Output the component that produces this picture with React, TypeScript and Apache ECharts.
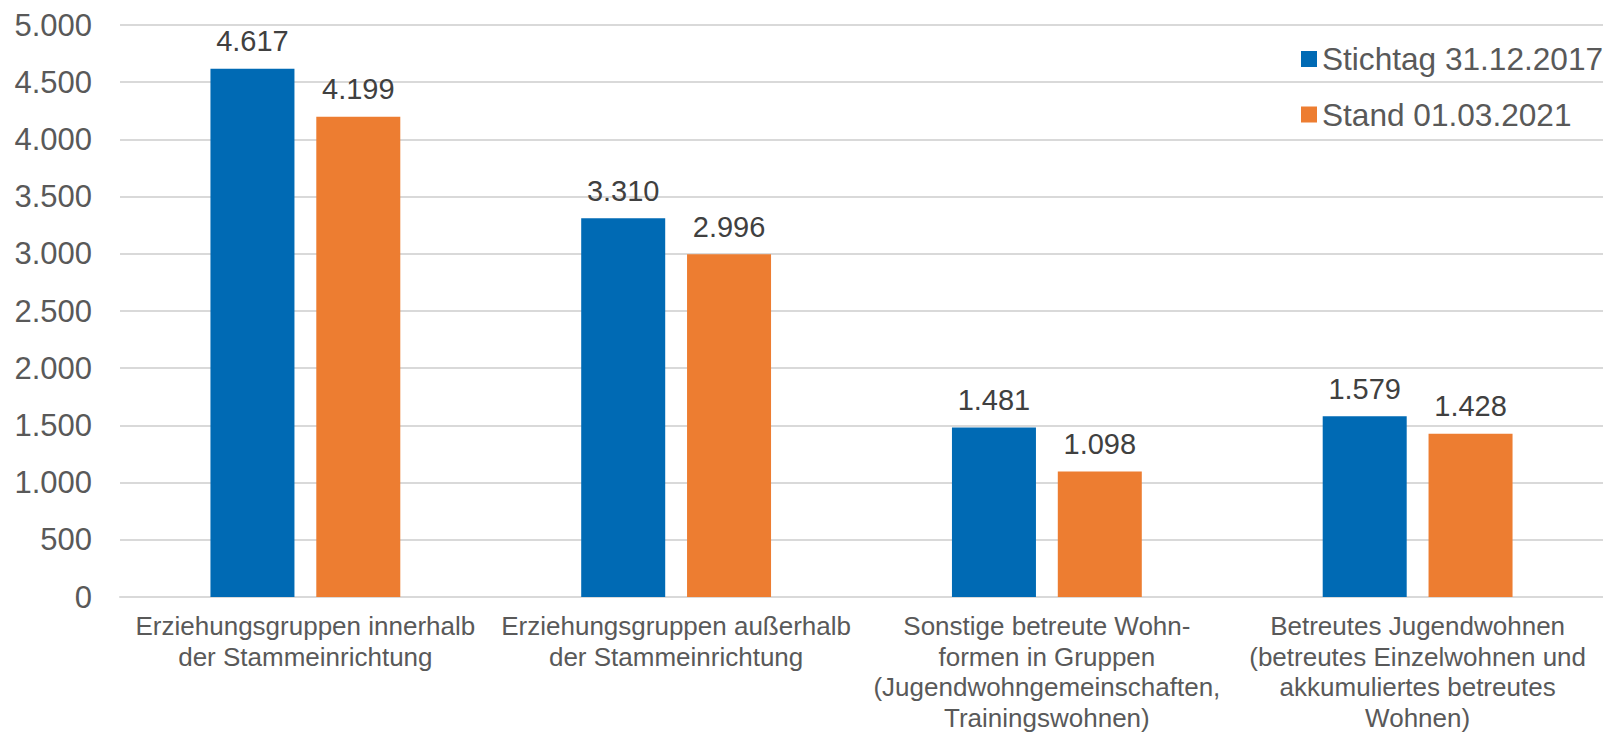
import React, { useEffect, useRef } from "react";
import * as echarts from "echarts";

const categories = [
  "Erziehungsgruppen innerhalb\nder Stammeinrichtung",
  "Erziehungsgruppen außerhalb\nder Stammeinrichtung",
  "Sonstige betreute Wohn-\nformen in Gruppen\n(Jugendwohngemeinschaften,\nTrainingswohnen)",
  "Betreutes Jugendwohnen\n(betreutes Einzelwohnen und\nakkumuliertes betreutes\nWohnen)",
];
const seriesNames = ["Stichtag 31.12.2017", "Stand 01.03.2021"];
const values2017 = [4617, 3310, 1481, 1579];
const values2021 = [4199, 2996, 1098, 1428];
const yMin = 0;
const yMax = 5000;
const yInterval = 500;

const fmt = (v: number) =>
  String(Math.round(v)).replace(/\B(?=(\d{3})+(?!\d))/g, ".");

const FONT = "Liberation Sans, Arial, sans-serif";

export default function App() {
  const ref = useRef<HTMLDivElement>(null);
  useEffect(() => {
    if (!ref.current) return;
    const chart = echarts.init(ref.current, null, { renderer: "svg" });
    const label = {
      show: true,
      position: "top",
      distance: 13,
      fontSize: 29,
      fontFamily: FONT,
      color: "#404040",
      formatter: (p: any) => fmt(p.value),
    };
    chart.setOption({
      animation: false,
      textStyle: { fontFamily: FONT },
      grid: {
        left: 120,
        right: 0,
        top: 25,
        bottom: 137,
        containLabel: false,
        outerBoundsMode: "none",
      },
      legend: {
        orient: "vertical",
        left: 1296,
        top: 38,
        itemWidth: 16,
        itemHeight: 16,
        itemGap: 23.5,
        icon: "rect",
        textStyle: { fontSize: 31.6, color: "#595959", fontFamily: FONT },
        data: seriesNames,
      },
      xAxis: {
        type: "category",
        data: categories,
        axisLine: { show: true, lineStyle: { color: "#d9d9d9", width: 2 } },
        axisTick: { show: false },
        axisLabel: {
          interval: 0,
          margin: 14,
          fontSize: 26,
          lineHeight: 30.5,
          color: "#595959",
          fontFamily: FONT,
          align: "center",
        },
      },
      yAxis: {
        type: "value",
        min: yMin,
        max: yMax,
        interval: yInterval,
        axisLine: { show: false },
        axisTick: { show: false },
        splitLine: { lineStyle: { color: "#d9d9d9", width: 2 } },
        axisLabel: {
          margin: 28,
          fontSize: 31,
          color: "#595959",
          fontFamily: FONT,
          formatter: (v: number) => fmt(v),
        },
      },
      series: [
        {
          name: seriesNames[0],
          type: "bar",
          data: values2017,
          barWidth: 84,
          barGap: "26%",
          itemStyle: { color: "#006AB4" },
          label,
        },
        {
          name: seriesNames[1],
          type: "bar",
          data: values2021,
          barWidth: 84,
          barGap: "26%",
          itemStyle: { color: "#ED7D31" },
          label,
        },
      ],
    });
    return () => chart.dispose();
  }, []);
  return <div ref={ref} style={{ width: 1603, height: 734, position: "absolute", left: 0, top: 0 }} />;
}
